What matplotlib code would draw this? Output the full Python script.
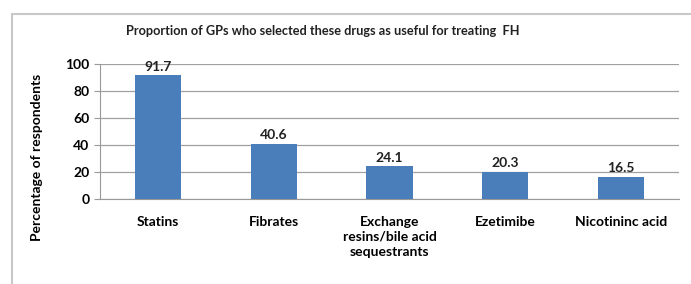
import matplotlib.pyplot as plt
from matplotlib.patches import Rectangle

categories = ["Statins", "Fibrates", "Exchange\nresins/bile acid\nsequestrants",
              "Ezetimibe", "Nicotininc acid"]
values = [91.7, 40.6, 24.1, 20.3, 16.5]
yticks = [0, 20, 40, 60, 80, 100]

plt.rcParams['font.family'] = ['Lato', 'DejaVu Sans']

fig = plt.figure(figsize=(6.91, 2.84), dpi=100)
# outer chart frame
fig.patches.append(Rectangle((12 / 691, -0.05), 1.0, 1 - 14 / 284 + 0.05,
                             transform=fig.transFigure, fill=False,
                             edgecolor='#c8c8c8', linewidth=1.5))

ax = fig.add_axes([100 / 691, 1 - 199 / 284, 579 / 691, 135 / 284])
x = range(len(categories))
ax.bar(x, values, width=0.4, color='#4a7ebb', zorder=3)
for i, v in enumerate(values):
    ax.text(i, v + 2, f"{v}", ha='center', va='bottom', fontsize=10,
            fontweight='bold', color='#222222')

ax.set_xlim(-0.5, len(categories) - 0.5)
ax.set_ylim(0, 100)
ax.set_yticks(yticks)
ax.set_xticks(list(x))
ax.set_xticklabels(categories, fontsize=10, fontweight='bold', va='top',
                   linespacing=1.3)
ax.tick_params(axis='x', length=0, pad=12)
ax.tick_params(axis='y', length=4, color='#999999', labelsize=10)
for lbl in ax.get_yticklabels():
    lbl.set_fontweight('bold')
ax.grid(axis='y', color='#a0a0a0', linewidth=0.9, zorder=0)
for s in ['top', 'right']:
    ax.spines[s].set_visible(False)
ax.spines['left'].set_color('#999999')
ax.spines['bottom'].set_color('#999999')
ax.set_ylabel("Percentage of respondents", fontsize=10, fontweight='bold')
ax.yaxis.set_label_coords(-0.098, 0.31)

fig.text(323 / 691, 1 - 31 / 284, "Proportion of GPs who selected these drugs as useful for treating  FH",
         ha='center', va='center', fontsize=9.2, fontweight='bold', color='#222222')

fig.savefig("out.png", dpi=100)
